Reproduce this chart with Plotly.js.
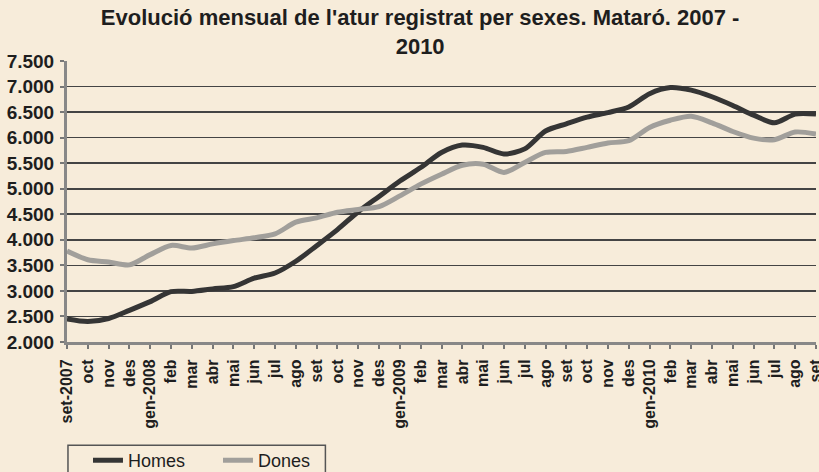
<!DOCTYPE html>
<html>
<head>
<meta charset="utf-8">
<script src="https://cdn.plot.ly/plotly-3.0.1.min.js"></script>
<style>
  html, body { margin: 0; padding: 0; background: #f7ecda; }
  #chart { width: 819px; height: 472px; }
</style>
</head>
<body>
<div id="chart"></div>
<script>
const months = ["set-2007","oct","nov","des","gen-2008","feb","mar","abr","mai","jun","jul","ago",
  "set","oct","nov","des","gen-2009","feb","mar","abr","mai","jun","jul","ago",
  "set","oct","nov","des","gen-2010","feb","mar","abr","mai","jun","jul","ago","set"];

const homes = [2450,2400,2460,2620,2790,2985,2990,3040,3085,3250,3350,3580,
  3885,4200,4550,4850,5150,5415,5710,5855,5810,5680,5780,6130,
  6270,6400,6490,6600,6860,6980,6930,6800,6630,6440,6290,6460,6460];

const dones = [3780,3610,3565,3510,3710,3890,3840,3920,3985,4040,4115,4345,
  4430,4540,4595,4650,4860,5090,5285,5460,5480,5320,5515,5710,
  5730,5810,5895,5940,6200,6340,6420,6290,6120,5990,5960,6110,6070];

const yTicks = [2000,2500,3000,3500,4000,4500,5000,5500,6000,6500,7000,7500];

const idx = months.map((m, i) => i);

const traces = [
  { x: idx, y: homes, name: "Homes", type: "scatter", mode: "lines",
    line: { color: "#353535", width: 5, shape: "spline", smoothing: 0.8 } },
  { x: idx, y: dones, name: "Dones", type: "scatter", mode: "lines",
    line: { color: "#a19f9b", width: 5, shape: "spline", smoothing: 0.8 } }
];

const layout = {
  width: 819, height: 472,
  paper_bgcolor: "#f7ecda", plot_bgcolor: "#f7ecda",
  separators: ",.",
  margin: { l: 67, r: 3, t: 61, b: 130, autoexpand: false },
  font: { family: "Liberation Sans, Arial, sans-serif", color: "#1e1e1e" },
  title: {
    text: "Evolució mensual de l'atur registrat per sexes. Mataró. 2007 -<br>2010",
    font: { size: 22, weight: "bold", color: "#1e1e1e" },
    x: 0.513, xanchor: "center", xref: "container",
    y: 0.947, yanchor: "middle", yref: "container"
  },
  xaxis: {
    range: [0, months.length - 1],
    tickvals: idx, ticktext: months, tickangle: -90,
    tickfont: { size: 16, weight: "bold" },
    ticks: "outside", ticklen: 4, tickwidth: 2, tickcolor: "#777",
    showline: true, linecolor: "#888", linewidth: 3,
    showgrid: false, zeroline: false, ticklabelstandoff: 4,
    ticklabeloverflow: "allow", automargin: false
  },
  yaxis: {
    range: [2000, 7500],
    tickvals: yTicks, tickformat: ",d",
    tickfont: { size: 19, weight: "bold" },
    ticks: "outside", ticklen: 4, tickwidth: 2, tickcolor: "#777",
    showline: true, linecolor: "#888", linewidth: 3,
    showgrid: true, gridcolor: "#444", gridwidth: 1.6,
    zeroline: false, ticklabelstandoff: 2, automargin: false
  },
  showlegend: true,
  legend: {
    orientation: "h", x: 0.028, xanchor: "left", y: -0.356, yanchor: "top",
    bgcolor: "rgba(0,0,0,0)", borderwidth: 0,
    font: { size: 18, color: "#1e1e1e" }, entrywidth: 85, tracegroupgap: 0
  },
  shapes: [
    { type: "rect", xref: "paper", yref: "paper",
      x0: 0.0013, x1: 0.345, y0: -0.367, y1: -0.52,
      line: { color: "#555", width: 1.5 }, fillcolor: "rgba(0,0,0,0)" }
  ]
};

Plotly.newPlot("chart", traces, layout, { displayModeBar: false, staticPlot: true });
</script>
</body>
</html>
